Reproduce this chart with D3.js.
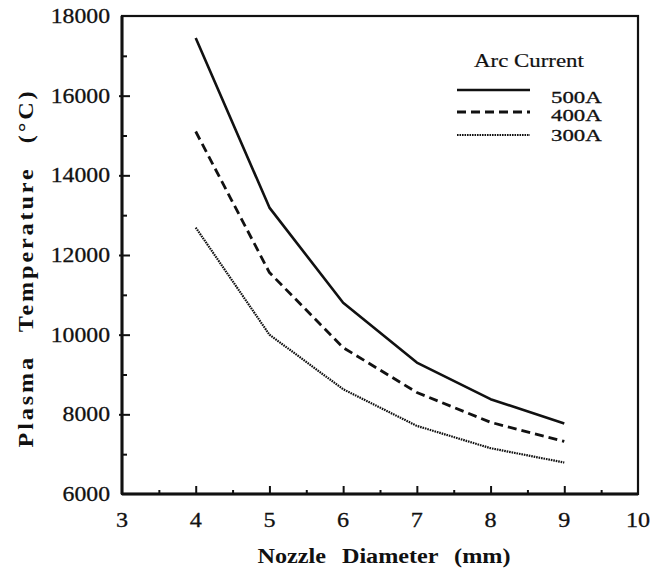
<!DOCTYPE html>
<html>
<head>
<meta charset="utf-8">
<script src="https://cdn.jsdelivr.net/npm/d3@7"></script>
<style>
  html, body { margin: 0; padding: 0; background: #fff; }
</style>
</head>
<body>
<svg id="chart" width="662" height="569"></svg>
<script>
// Nozzle diameter (mm) on the x axis
const diameters = [4, 5, 6, 7, 8, 9];
// Plasma temperature (°C) for each arc current
const temp500A = [17450, 13190, 10800, 9300, 8380, 7770];
const temp400A = [15100, 11560, 9675, 8550, 7800, 7320];
const temp300A = [12690, 10000, 8630, 7710, 7150, 6790];
const seriesNames = ["500A", "400A", "300A"];
const xTickLabels = [3, 4, 5, 6, 7, 8, 9, 10];
const yTickLabels = [6000, 8000, 10000, 12000, 14000, 16000, 18000];

const FONT = "'Liberation Serif', 'Times New Roman', Times, 'DejaVu Serif', serif";

const series = [
  { name: seriesNames[0], values: temp500A, dash: null, width: 2.6 },
  { name: seriesNames[1], values: temp400A, dash: "9,5", width: 2.8 },
  { name: seriesNames[2], values: temp300A, dash: "1.6,0.9", width: 2.2 }
];

const svg = d3.select("#chart");
const margin = { left: 122, right: 24, top: 16, bottom: 75 };
const W = 662, H = 569;

const x = d3.scaleLinear().domain([3, 10]).range([margin.left, W - margin.right]);
const y = d3.scaleLinear().domain([6000, 18000]).range([H - margin.bottom, margin.top]);

// Text placed at an anchor point, stretched horizontally around it
function label(str, px, py, opts) {
  const o = Object.assign({ size: 20, k: 1, anchor: "start", weight: "normal", rot: 0 }, opts);
  const t = svg.append("text")
    .attr("x", 0).attr("y", 0)
    .attr("font-family", FONT)
    .attr("font-size", o.size)
    .attr("font-weight", o.weight)
    .attr("text-anchor", o.anchor)
    .attr("fill", "#111")
    .attr("transform", `translate(${px},${py})${o.rot ? ` rotate(${o.rot})` : ""} scale(${o.k},1)`)
    .text(str);
  if (o.wordSpacing) t.attr("word-spacing", o.wordSpacing);
  if (o.letterSpacing) t.attr("letter-spacing", o.letterSpacing);
  if (o.stroke) t.attr("stroke", "#111").attr("stroke-width", o.stroke);
  return t;
}

// Frame
svg.append("rect")
  .attr("x", x(3)).attr("y", y(18000))
  .attr("width", x(10) - x(3)).attr("height", y(6000) - y(18000))
  .attr("fill", "none").attr("stroke", "#111").attr("stroke-width", 2.2);
// Heavier bottom and left axis lines
svg.append("line").attr("x1", x(3)).attr("x2", x(10)).attr("y1", y(6000)).attr("y2", y(6000))
  .attr("stroke", "#111").attr("stroke-width", 3);
svg.append("line").attr("x1", x(3)).attr("x2", x(3)).attr("y1", y(6000)).attr("y2", y(18000))
  .attr("stroke", "#111").attr("stroke-width", 3);

// X axis: inward ticks, minor at half units
const xAxis = d3.axisBottom(x)
  .tickValues(d3.range(3, 10.01, 0.5))
  .tickSizeInner(0).tickSizeOuter(0).tickFormat("");
const gx = svg.append("g").attr("transform", `translate(0,${y(6000)})`).call(xAxis);
gx.select(".domain").remove();
gx.selectAll(".tick line")
  .attr("y1", 1)
  .attr("y2", d => (Number.isInteger(d) ? -8 : -4))
  .attr("stroke", "#111").attr("stroke-width", 2);
gx.selectAll(".tick").filter(d => d === 3 || d === 10).select("line").remove();

xTickLabels.forEach(v => label(String(v), x(v), y(6000) + 33,
  { size: 21, k: 1.15, anchor: "middle", stroke: 0.3 }));

// Y axis: inward ticks, minor every 1000
const yAxis = d3.axisLeft(y)
  .tickValues(d3.range(6000, 18001, 1000))
  .tickSizeInner(0).tickSizeOuter(0).tickFormat("");
const gy = svg.append("g").attr("transform", `translate(${x(3)},0)`).call(yAxis);
gy.select(".domain").remove();
gy.selectAll(".tick line")
  .attr("x1", d => (d % 2000 === 0 ? -3 : 0))
  .attr("x2", d => (d % 2000 === 0 ? 8 : 5))
  .attr("stroke", "#111").attr("stroke-width", 2);
gy.selectAll(".tick").filter(d => d === 6000 || d === 18000).select("line").remove();

yTickLabels.forEach(v => label(String(v), x(3) - 12, y(v) + 7,
  { size: 21, k: 1.13, anchor: "end", stroke: 0.3 }));

// Axis titles
label("Nozzle Diameter (mm)", 384, 563,
  { size: 22, k: 1.1, anchor: "middle", weight: "bold", wordSpacing: 9 });
label("Plasma Temperature (°C)", 33, 268,
  { size: 22, k: 1.1, anchor: "middle", weight: "bold", wordSpacing: 13, letterSpacing: 2.6, rot: -90 });

// Curves
const line = d3.line()
  .x((d, i) => x(diameters[i]))
  .y(d => y(d));

series.forEach(s => {
  svg.append("path")
    .datum(s.values)
    .attr("d", line)
    .attr("fill", "none")
    .attr("stroke", "#111")
    .attr("stroke-width", s.width)
    .attr("stroke-linejoin", "round")
    .attr("stroke-dasharray", s.dash);
});

// Legend
label("Arc Current", 529, 67, { size: 18, k: 1.27, anchor: "middle", stroke: 0.2 });
const legendRows = [90, 112, 135];
const labelBase = [103, 121, 141];
series.forEach((s, i) => {
  svg.append("line")
    .attr("x1", 457).attr("x2", 530)
    .attr("y1", legendRows[i]).attr("y2", legendRows[i])
    .attr("stroke", "#111").attr("stroke-width", s.width)
    .attr("stroke-dasharray", s.dash);
  label(s.name, 551, labelBase[i], { size: 16.5, k: 1.38, stroke: 0.3 });
});
</script>
</body>
</html>
